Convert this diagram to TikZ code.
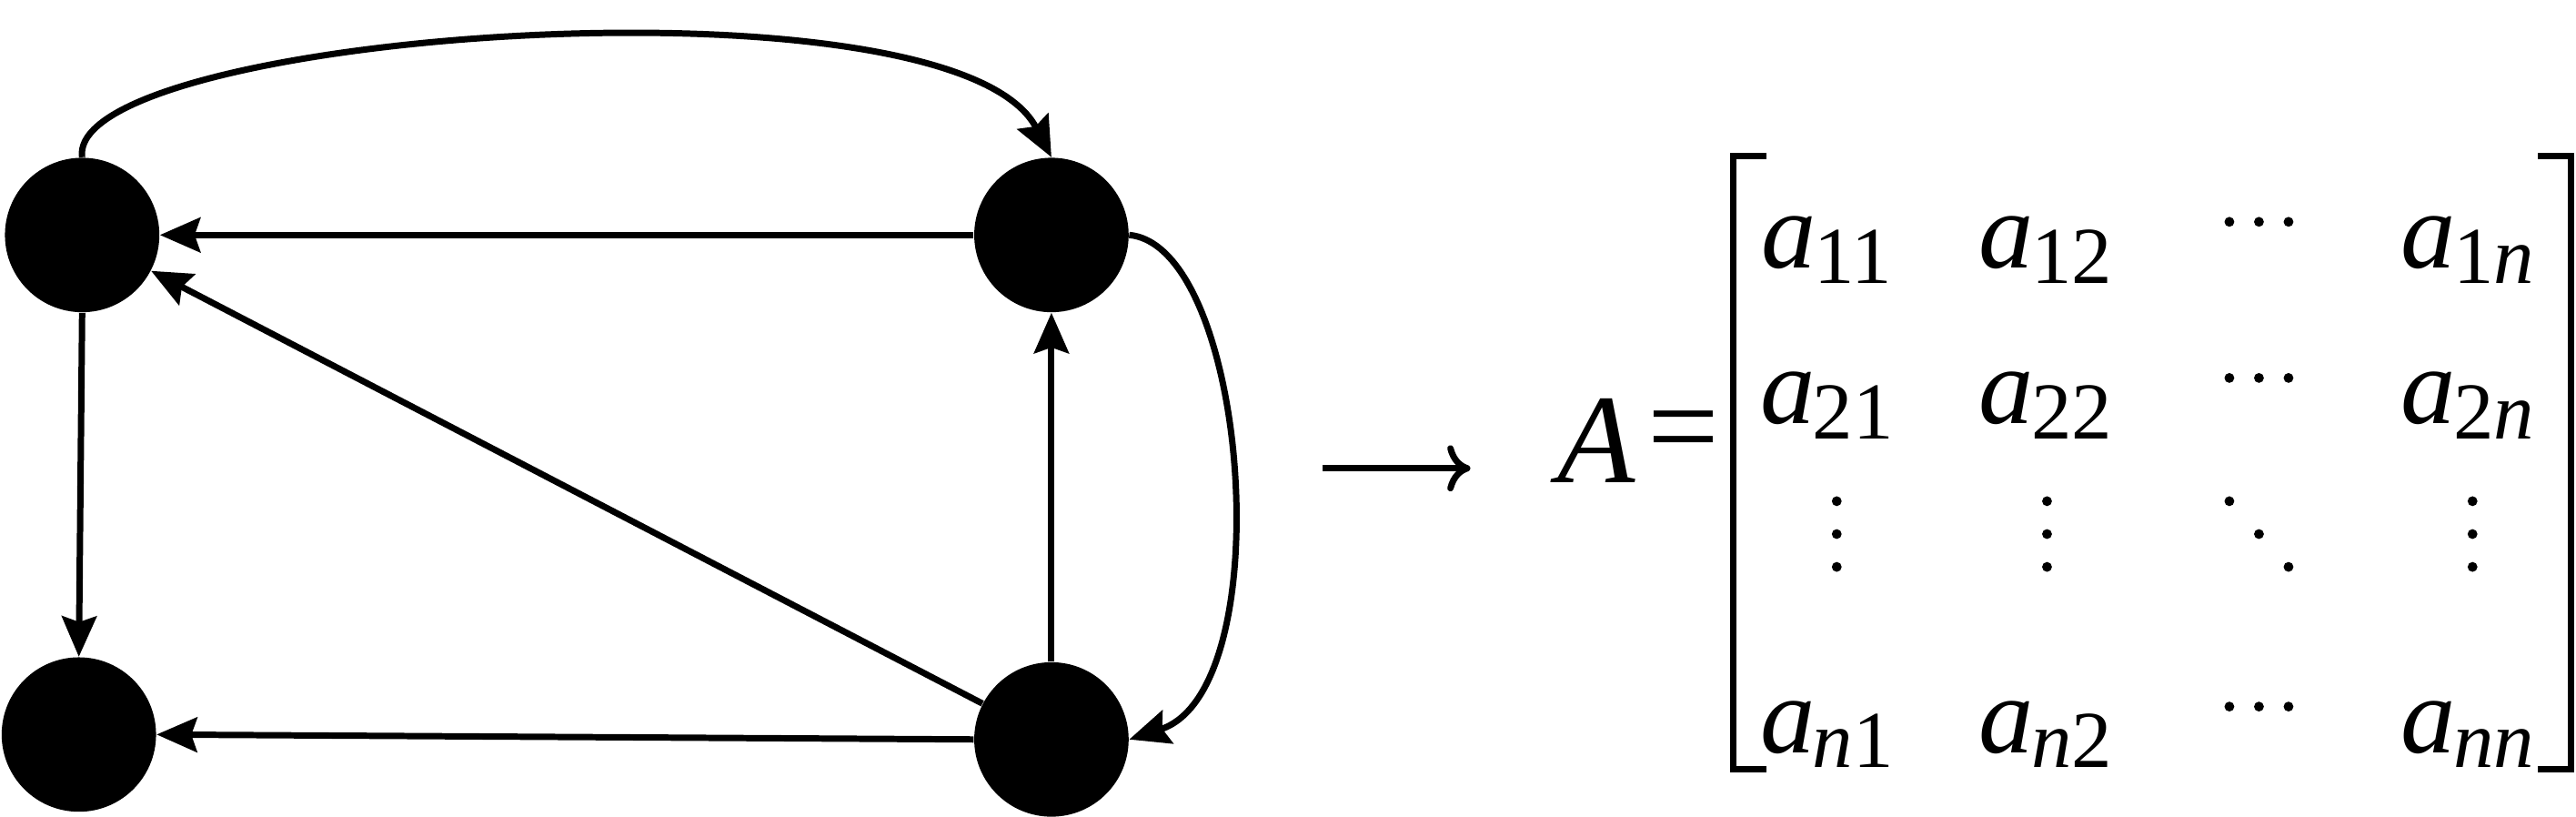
\documentclass[tikz,border=0pt]{standalone}
\usepackage{fontspec}
\setmainfont{Liberation Serif}
\usetikzlibrary{arrows.meta}
\newcommand{\ent}[2]{{\itshape a}\kern-0.02em\raisebox{-0.3ex}{\fontsize{28}{28}\selectfont #2}}
\begin{document}
\begin{tikzpicture}[x=0.02cm,y=-0.02cm,
  vtx/.style={circle,fill=black,minimum size=1.88cm,inner sep=0},
  edge/.style={line width=2.2pt,-{Stealth[length=14pt,width=12pt,inset=2pt]}},
  ent/.style={font=\fontsize{38}{38}\selectfont,anchor=base},
  dot/.style={fill=black}]
\useasboundingbox (0,0) rectangle (1568,497);
\node[vtx] (A) at (50,143) {};
\node[vtx] (B) at (640,143) {};
\node[vtx] (C) at (48,447) {};
\node[vtx] (D) at (640,450) {};
\draw[edge] (A.north) .. controls (40,20) and (580,-20) .. (B.north);
\draw[edge] (B.west) -- (A.east);
\draw[edge] (D) -- (A);
\draw[edge] (D.north) -- (B.south);
\draw[edge] (A.south) -- (C.north);
\draw[edge] (D.west) -- (C.east);
\draw[edge] (B.east) .. controls (760,150) and (780,420) .. (D.east);
\coordinate (s) at (805,285);
\coordinate (t) at (895,285);
\draw[line width=2.2pt,-{To[length=8pt,width=16pt]}] (s) -- (t);
\node[font=\fontsize{44}{44}\selectfont\itshape] (lhs) at (972,268) {A};
\node[font=\fontsize{44}{44}\selectfont] (eq) at (1025,268) {=};
\draw[line width=2.2pt] (1075,95) -- (1055,95) -- (1055,468) -- (1075,468);
\draw[line width=2.2pt] (1545,95) -- (1565,95) -- (1565,468) -- (1545,468);
\node[ent] (a11) at (1112,163) {\ent{}{11}};
\node[ent] (a12) at (1245,163) {\ent{}{12}};
\node[ent] (a1n) at (1502,163) {\ent{}{1\textit{n}}};
\node[ent] (a21) at (1112,258) {\ent{}{21}};
\node[ent] (a22) at (1245,258) {\ent{}{22}};
\node[ent] (a2n) at (1502,258) {\ent{}{2\textit{n}}};
\node[ent] (an1) at (1112,458) {\ent{}{\textit{n}1}};
\node[ent] (an2) at (1245,458) {\ent{}{\textit{n}2}};
\node[ent] (ann) at (1502,458) {\ent{}{\textit{nn}}};
\foreach \y in {135,230,430} \foreach \x in {1357,1375,1393} \fill[dot] (\x,\y) circle (3);
\foreach \x in {1118,1246,1505} \foreach \y in {305,325,345} \fill[dot] (\x,\y) circle (3);
\fill[dot] (1357,305) circle (3); \fill[dot] (1375,325) circle (3); \fill[dot] (1393,345) circle (3);
\end{tikzpicture}
\end{document}
